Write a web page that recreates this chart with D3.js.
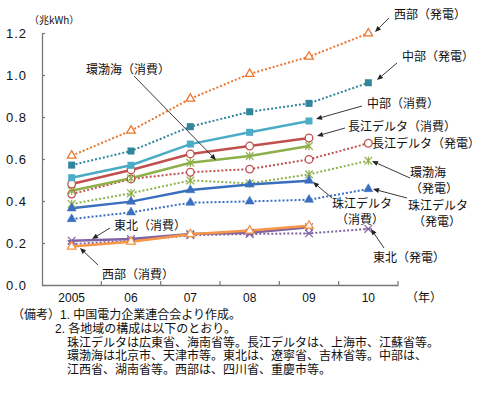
<!DOCTYPE html>
<html><head><meta charset="utf-8">
<script src="https://cdn.jsdelivr.net/npm/d3@7"></script>
<style>
body{margin:0;background:#fff;}
svg text{font-family:"Noto Sans CJK JP","Noto Sans",sans-serif;fill:#111;}
svg text.tight{font-family:"Liberation Sans","Noto Sans CJK JP",sans-serif;}
</style></head>
<body>
<svg id="c" width="481" height="407"></svg>
<script>
const years = ["2005","06","07","08","09","10"];
const yTicks = [0,0.2,0.4,0.6,0.8,1.0,1.2];
const seibuGen     = [0.616,0.735,0.887,1.005,1.087,1.198];
const chubuGen     = [0.571,0.638,0.754,0.825,0.865,0.963];
const chubuCon     = [0.511,0.570,0.671,0.727,0.781];
const choukouCon   = [0.481,0.548,0.624,0.662,0.700];
const kanbokkaiCon = [0.449,0.508,0.582,0.614,0.662];
const choukouGen   = [0.433,0.505,0.537,0.552,0.598,0.675];
const kanbokkaiGen = [0.386,0.437,0.498,0.484,0.527,0.592];
const shukouCon    = [0.365,0.397,0.452,0.479,0.497];
const shukouGen    = [0.314,0.346,0.392,0.398,0.406,0.457];
const touhokuCon   = [0.211,0.219,0.243,0.249,0.275];
const seibuCon     = [0.183,0.206,0.242,0.259,0.282];
const touhokuGen   = [0.195,0.210,0.237,0.243,0.246,0.267];

const svg = d3.select("#c");
const x = d3.scaleBand().domain(years).range([42,398]).padding(0);
const y = d3.scaleLinear().domain([0,1.2]).range([285,33]);
const cx = d => x(d) + x.bandwidth()/2;

const series = [
  {v:touhokuGen, c:"#8064A2", dash:true, m:"x"},
  {v:shukouGen, c:"#3A6FBF", dash:true, m:"tri"},
  {v:kanbokkaiGen, c:"#8DB04A", dash:true, m:"ast"},
  {v:choukouGen, c:"#C0504D", dash:true, m:"circ"},
  {v:chubuGen, c:"#31859C", dash:true, m:"sq"},
  {v:seibuGen, c:"#E8762D", dash:true, m:"tri0"},
  {v:shukouCon, c:"#3A6FBF", dash:false, m:"tri"},
  {v:kanbokkaiCon, c:"#8DB04A", dash:false, m:"ast"},
  {v:choukouCon, c:"#C0504D", dash:false, m:"circ"},
  {v:chubuCon, c:"#4BACC6", dash:false, m:"sq"},
  {v:touhokuCon, c:"#8064A2", dash:false, m:"x"},
  {v:seibuCon, c:"#F79646", dash:false, m:"tri0"}
];

// axes
const yAxis = d3.axisLeft(y).tickValues(yTicks).tickSizeInner(-3).tickSizeOuter(0).tickFormat(d3.format(".1f"));
const gy = svg.append("g").attr("transform","translate(42,0)").call(yAxis);
gy.select(".domain").attr("stroke","#777").attr("stroke-width",1.3);
gy.selectAll(".tick line").attr("stroke","#777").attr("stroke-width",1.2);
gy.selectAll(".tick text").attr("x",-15).attr("font-size",13).attr("letter-spacing","1px")
  .style("font-family","'Liberation Sans',sans-serif").attr("fill","#111");

const xAxis = d3.axisBottom(x).tickSize(0).tickSizeOuter(0);
const gx = svg.append("g").attr("transform","translate(0,285)").call(xAxis);
gx.select(".domain").attr("stroke","#777").attr("stroke-width",1.3);
gx.selectAll(".tick text").attr("y",8).attr("font-size",12)
  .style("font-family","'Liberation Sans',sans-serif").attr("fill","#111");
// band boundary ticks (inward)
const bounds = years.slice(1).map(d=>x(d)).concat([x.range()[1]]);
svg.append("g").selectAll("line").data(bounds).join("line")
  .attr("x1",d=>d).attr("x2",d=>d)
  .attr("y1",285).attr("y2",281).attr("stroke","#777").attr("stroke-width",1.2);

// lines
const line = d3.line().x((d,i)=>cx(years[i])).y(d=>y(d));
series.forEach(s=>{
  svg.append("path").datum(s.v).attr("d",line).attr("fill","none")
    .attr("stroke",s.c).attr("stroke-width",s.dash?2:2.5)
    .attr("stroke-dasharray",s.dash?"2,2":null);
});
// markers
series.forEach(s=>{
  const g = svg.append("g");
  s.v.forEach((d,i)=>{
    const px=cx(years[i]), py=y(d);
    if(s.m==="sq"){
      g.append("rect").attr("x",px-3.5).attr("y",py-3.5).attr("width",7).attr("height",7).attr("fill",s.c);
    } else if(s.m==="circ"){
      g.append("circle").attr("cx",px).attr("cy",py).attr("r",3.8).attr("fill","#fff").attr("stroke",s.c).attr("stroke-width",1.3);
    } else if(s.m==="tri" || s.m==="tri0"){
      g.append("path").attr("transform",`translate(${px},${py})`)
        .attr("d",d3.symbol(d3.symbolTriangle, s.m==="tri"?36:32)())
        .attr("fill",s.m==="tri"?s.c:"#fff").attr("stroke",s.c).attr("stroke-width",s.m==="tri"?0.5:1.3);
    } else {
      const r=3.8;
      let p=`M${px-r},${py-r}L${px+r},${py+r}M${px-r},${py+r}L${px+r},${py-r}`;
      if(s.m==="ast") p+=`M${px},${py-r-0.5}L${px},${py+r+0.5}`;
      else p+=`M${px-r},${py}L${px+r},${py}`;
      g.append("path").attr("d",p).attr("stroke",s.c).attr("stroke-width",1.2).attr("fill","none");
    }
  });
});

// axis titles
svg.append("text").attr("x",29).attr("y",24).attr("font-size",10).text("（兆kWh）");
svg.append("text").attr("x",406).attr("y",302).attr("font-size",12).text("（年）");

// annotations
const labels = [
  {t:["環渤海（消費）"], x:86, y:74},
  {t:["西部（発電）"], x:394, y:19},
  {t:["中部（発電）"], x:402, y:61},
  {t:["中部（消費）"], x:367, y:108},
  {t:["長江デルタ（消費）"], x:348, y:131},
  {t:["長江デルタ（発電）"], x:372, y:148},
  {t:["環渤海","（発電）"], x:410, y:177},
  {t:["珠江デルタ","（発電）"], x:408, y:210, x2:413},
  {t:["珠江デルタ","（消費）"], x:332, y:208, x2:336},
  {t:["東北（発電）"], x:373, y:262},
  {t:["東北（消費）"], x:114, y:230},
  {t:["西部（消費）"], x:102, y:279}
];
labels.forEach(l=>{
  l.t.forEach((s,i)=>{
    svg.append("text").attr("class",l.t.length>1?"tight":null)
      .attr("x",i===0?l.x:(l.x2||l.x)).attr("y",l.y+i*15.5).attr("font-size",12).text(s);
  });
});
const arrows = [
  [134,76,216,160],
  [389,18,375,32],
  [397,63,377,80],
  [362,106,316,119],
  [345,128,317,136],
  [410,178,372,161],
  [407,198,373,189],
  [332,198,313,182],
  [384,248,371,229],
  [110,228,92,239],
  [98,265,80,248]
];
const ag = svg.append("g");
arrows.forEach(a=>{
  const [x1,y1,x2,y2]=a;
  const ang=Math.atan2(y2-y1,x2-x1), L=6, W=2.5;
  const bx=x2-L*Math.cos(ang), by=y2-L*Math.sin(ang);
  ag.append("line").attr("x1",x1).attr("y1",y1).attr("x2",bx).attr("y2",by).attr("stroke","#222").attr("stroke-width",0.9);
  const px=-Math.sin(ang), py=Math.cos(ang);
  ag.append("path").attr("d",`M${x2},${y2}L${bx+px*W},${by+py*W}L${bx-px*W},${by-py*W}Z`).attr("fill","#222");
});

// notes
const notes = [
  {t:"（備考）1. 中国電力企業連合会より作成。", x:12, y:319},
  {t:"2. 各地域の構成は以下のとおり。", x:55, y:333},
  {t:"珠江デルタは広東省、海南省等。長江デルタは、上海市、江蘇省等。", x:67, y:346.5},
  {t:"環渤海は北京市、天津市等。東北は、遼寧省、吉林省等。中部は、", x:67, y:360},
  {t:"江西省、湖南省等。西部は、四川省、重慶市等。", x:67, y:373.5}
];
notes.forEach(n=>svg.append("text").attr("class","tight").attr("x",n.x).attr("y",n.y)
  .attr("font-size",12).attr("fill","#222").text(n.t));
</script>
</body></html>
